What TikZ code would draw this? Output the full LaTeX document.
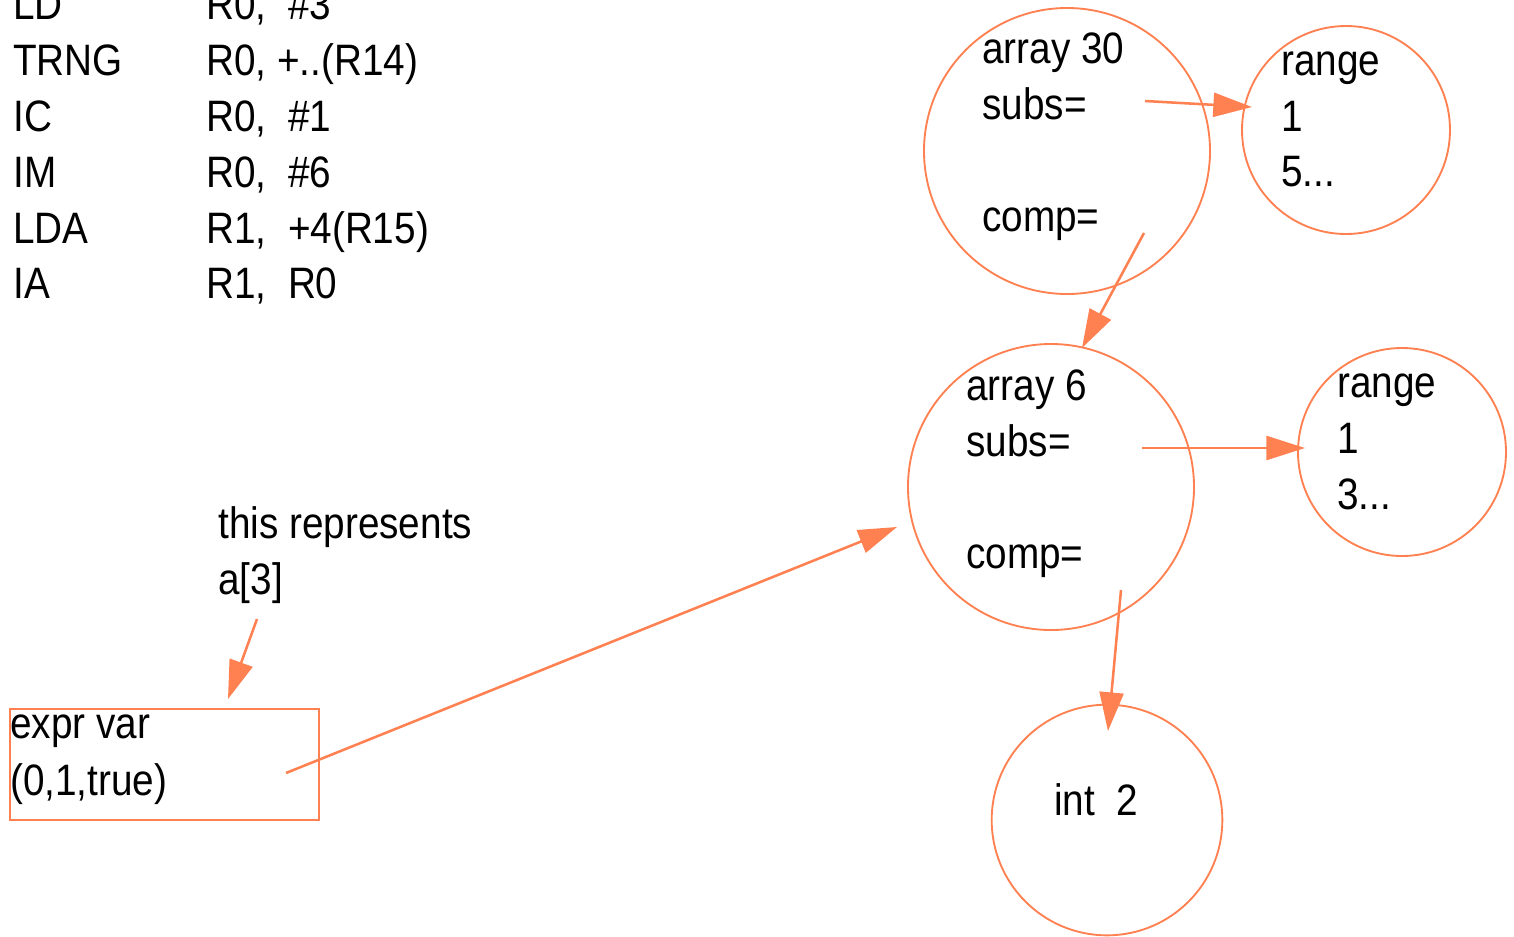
\documentclass[tikz,border=0pt]{standalone}
\usepackage{fontspec}
\setmainfont[FakeStretch=0.88]{Liberation Sans}
\usetikzlibrary{arrows.meta}
\definecolor{edge}{HTML}{FF8050}

\begin{document}
\begin{tikzpicture}[x=0.75pt,y=-0.75pt,
  txt/.style={anchor=base west, inner sep=0pt, font=\fontsize{33}{42}\selectfont},
  ring/.style={draw=edge, line width=1.4pt, circle, inner sep=0pt},
  bigring/.style={ring, minimum size=214.5pt},
  smallring/.style={ring, minimum size=156pt},
  link/.style={draw=edge, line width=1.9pt, -{Triangle[length=29pt,width=18pt]}}]
\useasboundingbox (0,0) rectangle (1514,936);

% assembler listing
\node[txt] (op0) at (13,19) {LD};      \node[txt] (arg0) at (206,19)  {R0,\ \ \#3};
\node[txt] (op1) at (13,75) {TRNG};    \node[txt] (arg1) at (206,75)  {R0, +..(R14)};
\node[txt] (op2) at (13,131) {IC};     \node[txt] (arg2) at (206,131) {R0,\ \ \#1};
\node[txt] (op3) at (13,187) {IM};     \node[txt] (arg3) at (206,187) {R0,\ \ \#6};
\node[txt] (op4) at (13,243) {LDA};    \node[txt] (arg4) at (206,243) {R1,\ \ +4(R15)};
\node[txt] (op5) at (13,298) {IA};     \node[txt] (arg5) at (206,298) {R1,\ \ R0};

% type descriptors
\node[bigring] (arr30) at (1067,151) {};
\node[txt] (arr30a) at (982,63)  {array 30};
\node[txt] (arr30b) at (982,119) {subs=};
\node[txt] (arr30c) at (982,231) {comp=};

\node[smallring] (rng5) at (1346,130) {};
\node[txt] (rng5a) at (1281,75)  {range};
\node[txt] (rng5b) at (1281,131) {1};
\node[txt] (rng5c) at (1281,186) {5...};

\node[bigring] (arr6) at (1051,487) {};
\node[txt] (arr6a) at (966,400) {array 6};
\node[txt] (arr6b) at (966,456) {subs=};
\node[txt] (arr6c) at (966,568) {comp=};

\node[smallring] (rng3) at (1402,452) {};
\node[txt] (rng3a) at (1337,397) {range};
\node[txt] (rng3b) at (1337,453) {1};
\node[txt] (rng3c) at (1337,509) {3...};

\node[ring, minimum size=173pt] (int2) at (1107,820) {};
\node[txt] (int2a) at (1054,815) {int\ \ 2};

% expression node and note
\node[draw=edge, line width=1.4pt, minimum width=231.75pt, minimum height=83.25pt, inner sep=0pt] (expr) at (164.5,764.5) {};
\node[txt] (expra) at (10,738) {expr var};
\node[txt] (exprb) at (10,795) {(0,1,true)};

\node[txt] (note1) at (218,538) {this represents};
\node[txt] (note2) at (218,594) {a[3]};

% pointer ends
\coordinate (p1s) at (1145,101); \coordinate (p1e) at (1252,107);
\coordinate (p2s) at (1144,233); \coordinate (p2e) at (1082,348);
\coordinate (p3s) at (1142,448); \coordinate (p3e) at (1305,448);
\coordinate (p4s) at (1121,590); \coordinate (p4e) at (1108,731);
\coordinate (p5s) at (286,773);  \coordinate (p5e) at (897,527);
\coordinate (p6s) at (257,619);  \coordinate (p6e) at (228,699);

\draw[link] (p1s) -- (p1e);
\draw[link] (p2s) -- (p2e);
\draw[link] (p3s) -- (p3e);
\draw[link] (p4s) -- (p4e);
\draw[link] (p5s) -- (p5e);
\draw[link] (p6s) -- (p6e);
\end{tikzpicture}
\end{document}
